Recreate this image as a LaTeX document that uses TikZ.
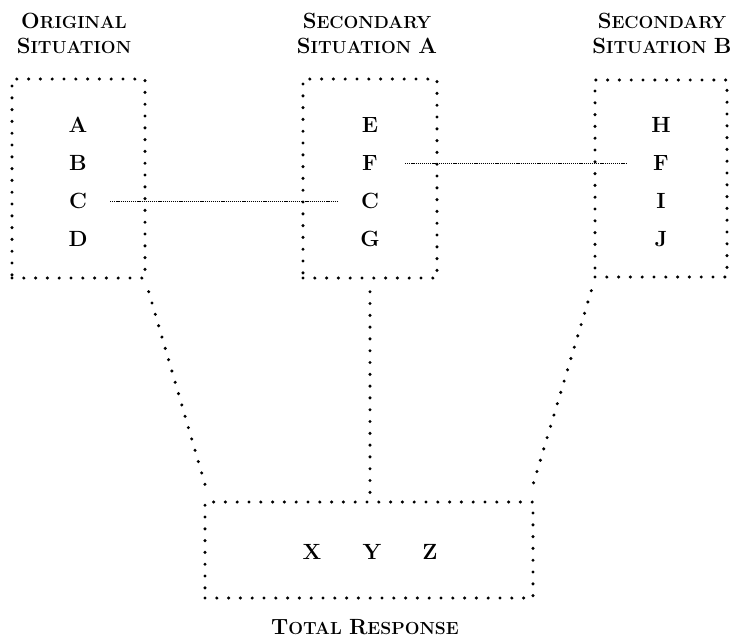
\documentclass[tikz,border=0pt]{standalone}
\usetikzlibrary{calc}
\newcommand\myBig[1]{{\fontsize{22}{25}\selectfont #1}}
\newcommand\mySm[1]{{\fontsize{17.5}{25}\selectfont #1}}
\begin{document}
\begin{tikzpicture}[x=1pt,y=-1pt,
  bigdots/.style={line width=3.4pt,line cap=round,dash pattern=on 0pt off 11.8pt},
  box/.style={draw,bigdots,inner sep=0pt},
  fine/.style={line width=1pt,dash pattern=on 1.2pt off 0.9pt},
  letter/.style={font=\fontsize{22}{26}\selectfont\bfseries,inner sep=0pt,anchor=center},
  title/.style={font=\fontsize{19}{25}\selectfont\bfseries,align=center,inner sep=0pt}]
\useasboundingbox (0,0) rectangle (734,638);
% boxes
\node[box,minimum width=133pt,minimum height=199pt] (b1) at (78.5,178.5) {};
\node[box,minimum width=134pt,minimum height=199pt] (b2) at (370,178.5) {};
\node[box,minimum width=132pt,minimum height=197pt] (b3) at (661,178.5) {};
\node[box,minimum width=328pt,minimum height=96pt] (b4) at (369,550) {};
% fine connectors and dotted connectors
\coordinate (c1e) at (110,201);
\coordinate (c2w) at (338,201);
\coordinate (f2e) at (405,163);
\coordinate (f3w) at (626,163);
\draw[fine] (c1e) -- (c2w);
\draw[fine] (f2e) -- (f3w);
\draw[bigdots] ($(b1.south east)+(2,12)$) -- ($(b4.north west)+(4,-8)$);
\draw[bigdots] ($(b2.south)+(0,12)$) -- ($(b4.north)+(1,-4)$);
\draw[bigdots] ($(b3.south west)+(-2,12)$) -- ($(b4.north east)+(-4,-8)$);
% titles
\node[title] (t1) at (74,33) {\myBig{O}\mySm{RIGINAL}\\\myBig{S}\mySm{ITUATION}};
\node[title] (t2) at (367,33) {\myBig{S}\mySm{ECONDARY}\\\myBig{S}\mySm{ITUATION} \myBig{A}};
\node[title] (t3) at (662,33) {\myBig{S}\mySm{ECONDARY}\\\myBig{S}\mySm{ITUATION} \myBig{B}};
\node[title] (t4) at (365,627) {\myBig{T}\mySm{OTAL} \myBig{R}\mySm{ESPONSE}};
% letters
\node[letter] (a1) at (78,125) {A};
\node[letter] (bb1) at (78,163) {B};
\node[letter] (c1) at (78,201) {C};
\node[letter] (d1) at (78,239) {D};
\node[letter] (e2) at (370,125) {E};
\node[letter] (f2) at (370,163) {F};
\node[letter] (c2) at (370,201) {C};
\node[letter] (g2) at (370,239) {G};
\node[letter] (h3) at (661,125) {H};
\node[letter] (f3) at (661,163) {F};
\node[letter] (i3) at (661,201) {I};
\node[letter] (j3) at (661,239) {J};
\node[letter] (x4) at (312,552) {X};
\node[letter] (y4) at (372,552) {Y};
\node[letter] (z4) at (430,552) {Z};
\end{tikzpicture}
\end{document}
